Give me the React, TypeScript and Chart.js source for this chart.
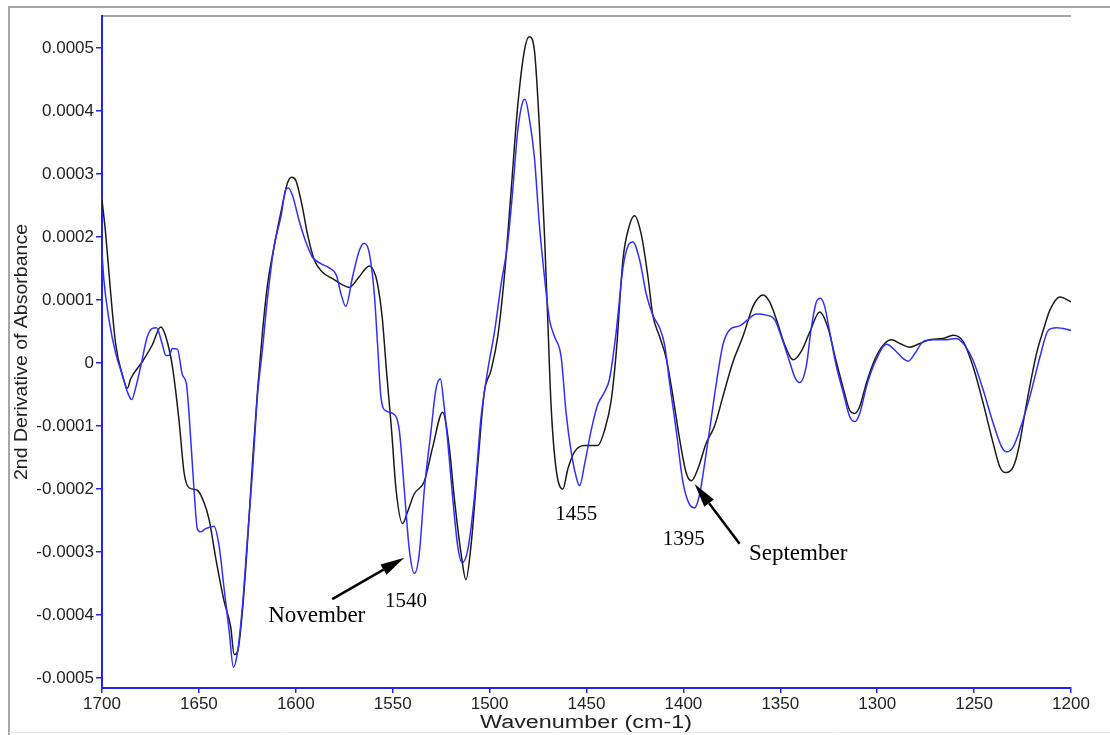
import React, { useEffect, useRef } from 'react';
import { Chart, registerables } from 'chart.js';

Chart.register(...registerables);

// ---------- axis ticks ----------
const xTickValues = [1700, 1650, 1600, 1550, 1500, 1450, 1400, 1350, 1300, 1250, 1200];
const xTickLabels = ['1700', '1650', '1600', '1550', '1500', '1450', '1400', '1350', '1300', '1250', '1200'];
const yTickValues = [-0.0005, -0.0004, -0.0003, -0.0002, -0.0001, 0, 0.0001, 0.0002, 0.0003, 0.0004, 0.0005];
const yTickLabels = ['-0.0005', '-0.0004', '-0.0003', '-0.0002', '-0.0001', '0', '0.0001', '0.0002', '0.0003', '0.0004', '0.0005'];

// ---------- September (black) : wavenumber (cm-1) / 2nd derivative (x 1e-4) ----------
const septemberWavenumbers = [
  1700, 1698.1, 1695.5, 1692.9, 1689.5, 1686.9, 1685.2, 1679.2, 1674.0, 1669.7,
  1667.1, 1663.7, 1660.2, 1657.6, 1655.1, 1650.8, 1647.3, 1644.7, 1641.3, 1637.0,
  1633.6, 1631.8, 1630.1, 1627.5, 1624.9, 1622.4, 1619.8, 1617.2, 1614.6, 1611.2,
  1607.7, 1604.3, 1602.1, 1600.0, 1596.5, 1594.0, 1590.5, 1586.2, 1581.0, 1575.9,
  1572.4, 1567.3, 1562.1, 1559.0, 1557.5, 1555.5, 1553.0, 1550.5, 1548.3, 1544.9,
  1542.3, 1538.9, 1533.7, 1529.4, 1524.2, 1520.8, 1518.2, 1514.7, 1512.2, 1509.6,
  1506.1, 1502.7, 1499.3, 1495.8, 1492.4, 1488.9, 1485.5, 1482.0, 1479.5, 1476.9,
  1474.3, 1471.7, 1470.0, 1468.3, 1465.7, 1462.2, 1459.6, 1456.2, 1451.0, 1444.2,
  1440.7, 1437.3, 1434.7, 1431.2, 1427.8, 1425.2, 1421.8, 1418.3, 1415.8, 1412.3,
  1408.9, 1405.4, 1402.0, 1398.5, 1395.9, 1392.5, 1388.2, 1383.9, 1379.6, 1374.4,
  1369.3, 1364.1, 1361.5, 1358.9, 1355.5, 1352.0, 1347.7, 1343.4, 1339.1, 1334.8,
  1329.7, 1325.4, 1321.1, 1317.6, 1314.2, 1311.6, 1309.0, 1305.6, 1301.3, 1297.0,
  1292.6, 1288.3, 1283.2, 1278.0, 1272.8, 1266.0, 1260.8, 1255.6, 1250.5, 1245.3,
  1240.1, 1236.7, 1233.6, 1229.8, 1227.2, 1222.9, 1217.8, 1214.3, 1210.9, 1205.7,
  1200,
];
const septemberValues = [
  2.59, 2.05, 1.10, 0.29, -0.19, -0.40, -0.25, 0.02, 0.29, 0.57,
  0.42, -0.05, -0.93, -1.75, -1.98, -2.02, -2.22, -2.49, -3.10, -3.78,
  -4.19, -4.63, -4.59, -3.92, -2.83, -1.61, -0.46, 0.49, 1.24, 1.85,
  2.39, 2.86, 2.95, 2.90, 2.46, 2.05, 1.64, 1.44, 1.34, 1.24,
  1.20, 1.37, 1.54, 1.40, 1.20, 0.75, -0.20, -1.10, -2.00, -2.55,
  -2.36, -2.08, -1.88, -1.34, -0.78, -1.34, -2.15, -3.03, -3.44, -2.90,
  -1.61, -0.46, -0.12, 0.42, 1.37, 2.73, 4.08, 4.97, 5.18, 4.97,
  3.75, 2.05, 0.69, -0.66, -1.68, -2.00, -1.68, -1.41, -1.31, -1.31,
  -1.07, -0.60, 0.15, 1.64, 2.19, 2.34, 2.05, 1.37, 0.76, 0.42,
  0.08, -0.53, -1.20, -1.75, -1.87, -1.68, -1.27, -1.00, -0.53, 0.02,
  0.42, 0.90, 1.03, 1.08, 0.97, 0.69, 0.29, 0.05, 0.19, 0.49,
  0.81, 0.56, 0.02, -0.39, -0.75, -0.80, -0.69, -0.32, 0.05, 0.28,
  0.37, 0.31, 0.25, 0.31, 0.37, 0.39, 0.44, 0.34, -0.06, -0.64,
  -1.28, -1.65, -1.74, -1.65, -1.38, -0.64, 0.15, 0.52, 0.84, 1.05,
  0.97,
];

// ---------- November (blue) : wavenumber (cm-1) / 2nd derivative (x 1e-4) ----------
const novemberWavenumbers = [
  1700, 1699.0, 1696.4, 1692.9, 1689.5, 1686.9, 1684.7, 1682.6, 1680.0, 1676.6,
  1674.0, 1671.9, 1668.8, 1667.1, 1665.4, 1663.7, 1661.1, 1658.5, 1656.5, 1655.1,
  1652.5, 1650.8, 1649.1, 1646.5, 1642.2, 1639.6, 1637.0, 1634.4, 1632.2, 1630.1,
  1627.5, 1624.9, 1622.4, 1619.8, 1617.2, 1614.6, 1611.2, 1607.7, 1605.1, 1603.8,
  1601.7, 1598.2, 1594.8, 1591.4, 1587.1, 1582.8, 1579.0, 1576.7, 1574.2, 1570.7,
  1567.3, 1564.7, 1562.1, 1559.5, 1557.8, 1556.1, 1553.5, 1550.0, 1546.6, 1544.0,
  1541.4, 1538.8, 1536.3, 1533.7, 1530.2, 1527.7, 1525.4, 1523.7, 1521.6, 1519.0,
  1516.5, 1514.2, 1511.3, 1507.9, 1504.4, 1501.0, 1497.5, 1494.1, 1490.6, 1488.1,
  1485.5, 1482.9, 1481.7, 1479.5, 1476.9, 1474.3, 1471.7, 1469.1, 1466.5, 1463.1,
  1460.5, 1457.9, 1455.3, 1453.6, 1451.0, 1447.6, 1444.2, 1440.7, 1438.1, 1434.7,
  1431.2, 1428.7, 1426.1, 1422.6, 1419.2, 1415.8, 1412.3, 1409.7, 1407.1, 1403.7,
  1400.3, 1396.8, 1394.2, 1391.6, 1389.1, 1386.5, 1383.0, 1379.6, 1376.1, 1371.0,
  1366.7, 1362.4, 1357.2, 1352.9, 1349.5, 1345.2, 1342.6, 1340.0, 1336.6, 1334.0,
  1331.4, 1329.3, 1327.1, 1324.5, 1321.1, 1317.6, 1314.2, 1311.6, 1309.0, 1305.6,
  1301.3, 1295.2, 1290.1, 1286.6, 1284.0, 1280.6, 1276.3, 1271.1, 1264.2, 1259.1,
  1254.8, 1250.5, 1245.3, 1240.1, 1235.8, 1233.3, 1229.8, 1226.4, 1221.2, 1216.0,
  1211.7, 1207.4, 1200,
];
const novemberValues = [
  1.75, 1.31, 0.69, 0.15, -0.19, -0.46, -0.58, -0.39, -0.05, 0.42,
  0.55, 0.56, 0.29, 0.12, 0.12, 0.23, 0.22, -0.19, -0.32, -0.80,
  -2.02, -2.63, -2.68, -2.63, -2.59, -2.90, -3.58, -4.25, -4.83, -4.59,
  -3.85, -2.76, -1.75, -0.53, 0.22, 1.03, 1.85, 2.32, 2.76, 2.78,
  2.66, 2.25, 1.92, 1.68, 1.58, 1.51, 1.39, 1.10, 0.90, 1.37,
  1.78, 1.90, 1.75, 1.10, 0.29, -0.53, -0.76, -0.80, -1.07, -2.02,
  -2.97, -3.34, -3.03, -2.02, -1.07, -0.42, -0.25, -0.62, -1.25, -2.15,
  -2.90, -3.17, -2.97, -2.15, -0.86, -0.12, 0.49, 1.24, 1.92, 2.73,
  3.68, 4.15, 4.19, 3.88, 3.27, 2.19, 1.37, 0.69, 0.42, 0.10,
  -0.80, -1.41, -1.81, -1.95, -1.61, -1.07, -0.66, -0.46, -0.25, 0.49,
  1.51, 1.85, 1.92, 1.64, 1.10, 0.76, 0.56, 0.29, -0.32, -1.07,
  -1.88, -2.25, -2.30, -2.08, -1.61, -1.07, -0.32, 0.29, 0.53, 0.59,
  0.69, 0.78, 0.76, 0.69, 0.42, 0.02, -0.22, -0.31, -0.05, 0.56,
  0.97, 1.03, 0.90, 0.49, -0.05, -0.46, -0.85, -0.93, -0.80, -0.38,
  0.00, 0.30, 0.18, 0.07, 0.03, 0.15, 0.34, 0.37, 0.37, 0.39,
  0.28, 0.04, -0.43, -0.96, -1.33, -1.41, -1.33, -1.06, -0.53, 0.10,
  0.52, 0.56, 0.52,
];

const VALUE_UNIT = 1e-4;

// ---------- annotations (anchored in data coordinates) ----------
const labelTexts = ['November', '1540', '1455', '1395', 'September'];
const labelWavenumbers = [1589.2, 1543.1, 1455.3, 1399.8, 1340.8];
const labelValues = [-4.115, -3.88, -2.49, -2.89, -3.13]; // x 1e-4, text baseline
const arrowFromWavenumbers = [1581.2, 1371.0];
const arrowFromValues = [-3.75, -2.87];
const arrowToWavenumbers = [1544.0, 1394.2];
const arrowToValues = [-3.09, -1.92];

const xTitle = 'Wavenumber (cm-1)';
const yTitle = '2nd Derivative of Absorbance';

const AXIS_BLUE = '#2222ff';
const TEXT_COLOR = '#222222';
const SANS = "'Liberation Sans', Arial, sans-serif";
const SERIF = "'Liberation Serif', 'Times New Roman', serif";

function toPoints(xs: number[], ys: number[]) {
  return xs.map((x, i) => ({ x, y: ys[i] * VALUE_UNIT }));
}

function drawStretched(ctx: CanvasRenderingContext2D, text: string, cx: number, baseline: number, font: string, targetW: number, rotate: boolean) {
  ctx.save();
  ctx.translate(cx, baseline);
  if (rotate) ctx.rotate(-Math.PI / 2);
  ctx.font = font;
  const w = ctx.measureText(text).width;
  ctx.scale(targetW / w, 1);
  ctx.textAlign = 'center';
  ctx.textBaseline = 'alphabetic';
  ctx.fillStyle = TEXT_COLOR;
  ctx.fillText(text, 0, 0);
  ctx.restore();
}

const framePlugin = {
  id: 'frame',
  beforeDraw(chart: any) {
    const { ctx, chartArea, width, height } = chart;
    ctx.save();
    ctx.fillStyle = '#ffffff';
    ctx.fillRect(0, 0, width, height);
    ctx.strokeStyle = '#a6a6a6';
    ctx.lineWidth = 2;
    ctx.beginPath();
    ctx.moveTo(9, height);
    ctx.lineTo(9, 7);
    ctx.lineTo(width, 7);
    ctx.stroke();
    ctx.beginPath();
    ctx.moveTo(chartArea.left, chartArea.top);
    ctx.lineTo(chartArea.right, chartArea.top);
    ctx.stroke();
    ctx.strokeStyle = '#e8e8e8';
    ctx.lineWidth = 1;
    ctx.beginPath();
    ctx.moveTo(9, height - 2.5);
    ctx.lineTo(width, height - 2.5);
    ctx.stroke();
    ctx.restore();
  },
};

const decorPlugin = {
  id: 'decor',
  afterDraw(chart: any) {
    const { ctx } = chart;
    const xs = chart.scales.x;
    const ys = chart.scales.y;
    // axis titles
    drawStretched(ctx, xTitle, 586, 727.5, `18px ${SANS}`, 212, false);
    drawStretched(ctx, yTitle, 27, 352, `18px ${SANS}`, 256, true);

    // labels
    ctx.save();
    ctx.fillStyle = '#000';
    ctx.textAlign = 'center';
    ctx.textBaseline = 'alphabetic';
    labelTexts.forEach((t, i) => {
      const isWord = /[A-Za-z]/.test(t);
      ctx.font = isWord ? `23px ${SERIF}` : `21px ${SERIF}`;
      ctx.fillText(t, xs.getPixelForValue(labelWavenumbers[i]), ys.getPixelForValue(labelValues[i] * VALUE_UNIT));
    });
    // arrows
    ctx.strokeStyle = '#000';
    ctx.lineWidth = 2.5;
    arrowFromWavenumbers.forEach((_, i) => {
      const x1 = xs.getPixelForValue(arrowFromWavenumbers[i]);
      const y1 = ys.getPixelForValue(arrowFromValues[i] * VALUE_UNIT);
      const x2 = xs.getPixelForValue(arrowToWavenumbers[i]);
      const y2 = ys.getPixelForValue(arrowToValues[i] * VALUE_UNIT);
      const ang = Math.atan2(y2 - y1, x2 - x1);
      const headLen = 24;
      const headHalf = 6;
      const bx = x2 - headLen * Math.cos(ang);
      const by = y2 - headLen * Math.sin(ang);
      ctx.beginPath();
      ctx.moveTo(x1, y1);
      ctx.lineTo(bx, by);
      ctx.stroke();
      ctx.beginPath();
      ctx.moveTo(x2, y2);
      ctx.lineTo(bx + headHalf * Math.sin(ang), by - headHalf * Math.cos(ang));
      ctx.lineTo(bx - headHalf * Math.sin(ang), by + headHalf * Math.cos(ang));
      ctx.closePath();
      ctx.fillStyle = '#000';
      ctx.fill();
    });
    ctx.restore();
  },
};

export default function App() {
  const canvasRef = useRef<HTMLCanvasElement | null>(null);

  useEffect(() => {
    const canvas = canvasRef.current;
    if (!canvas) return;
    const chart = new Chart(canvas, {
      type: 'line',
      data: {
        datasets: [
          {
            label: 'November',
            data: toPoints(novemberWavenumbers, novemberValues),
            borderColor: '#2f2fff',
            borderWidth: 1.5,
            pointRadius: 0,
            fill: false,
            cubicInterpolationMode: 'monotone',
          },
          {
            label: 'September',
            data: toPoints(septemberWavenumbers, septemberValues),
            borderColor: '#1a1a1a',
            borderWidth: 1.5,
            pointRadius: 0,
            fill: false,
            cubicInterpolationMode: 'monotone',
          },
        ],
      },
      options: {
        responsive: false,
        animation: false,
        devicePixelRatio: 1,
        layout: { padding: { top: 16, right: 39, left: 0, bottom: 0 } },
        plugins: { legend: { display: false }, tooltip: { enabled: false }, title: { display: false } },
        scales: {
          x: {
            type: 'linear',
            reverse: true,
            min: 1200,
            max: 1700,
            afterBuildTicks: (s: any) => {
              s.ticks = xTickValues.map((v) => ({ value: v }));
            },
            afterFit: (s: any) => {
              s.height = 47;
            },
            ticks: {
              autoSkip: false,
              maxRotation: 0,
              padding: 1,
              color: TEXT_COLOR,
              font: { family: SANS, size: 17 },
              callback: (_v: any, i: number) => xTickLabels[i],
            },
            grid: { drawOnChartArea: false, drawTicks: true, tickLength: 5, color: AXIS_BLUE, lineWidth: 1.5 },
            border: { display: true, color: AXIS_BLUE, width: 2 },
          },
          y: {
            type: 'linear',
            min: -0.000516,
            max: 0.000551,
            afterBuildTicks: (s: any) => {
              s.ticks = yTickValues.map((v) => ({ value: v }));
            },
            afterFit: (s: any) => {
              s.width = 102;
            },
            ticks: {
              autoSkip: false,
              padding: 2,
              color: TEXT_COLOR,
              font: { family: SANS, size: 17 },
              callback: (_v: any, i: number) => yTickLabels[i],
            },
            grid: { drawOnChartArea: false, drawTicks: true, tickLength: 6, color: AXIS_BLUE, lineWidth: 1.5 },
            border: { display: true, color: AXIS_BLUE, width: 2 },
          },
        },
      },
      plugins: [framePlugin, decorPlugin],
    } as any);
    return () => chart.destroy();
  }, []);

  return (
    <div style={{ position: 'absolute', left: 0, top: 0, width: 1110, height: 735, background: '#fff' }}>
      <canvas ref={canvasRef} width={1110} height={735} style={{ display: 'block', width: 1110, height: 735 }} />
    </div>
  );
}
